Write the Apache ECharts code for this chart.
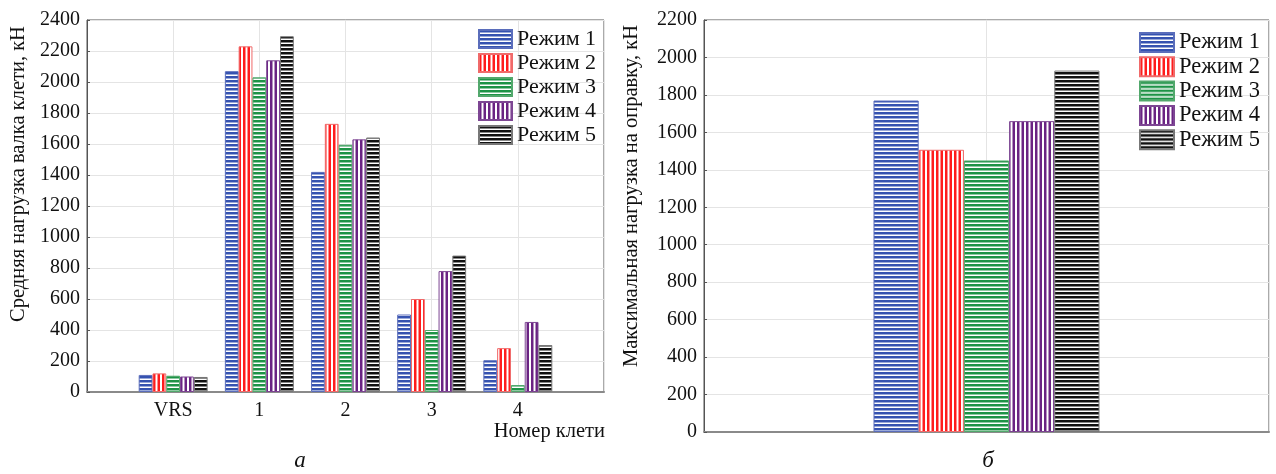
<!DOCTYPE html>
<html>
<head>
<meta charset="utf-8">
<script src="https://cdn.jsdelivr.net/npm/echarts@6/dist/echarts.min.js"></script>
<style>
html,body{margin:0;padding:0;background:#fff;}
#chart{width:1276px;height:474px;}
</style>
</head>
<body>
<div id="chart"></div>
<script>
// ---------- data ----------
const standCategories = ['VRS', '1', '2', '3', '4'];
const seriesNames = ['Режим 1', 'Режим 2', 'Режим 3', 'Режим 4', 'Режим 5'];
const avgLoadMode1 = [110, 2070, 1420, 500, 205];
const avgLoadMode2 = [120, 2230, 1730, 600, 283];
const avgLoadMode3 = [105, 2030, 1595, 400, 45];
const avgLoadMode4 = [100, 2140, 1630, 780, 452];
const avgLoadMode5 = [97, 2295, 1642, 880, 303];
const maxMandrelLoad = [1770, 1507, 1450, 1660, 1930];
const leftYTicks = {min: 0, max: 2400, interval: 200};
const rightYTicks = {min: 0, max: 2200, interval: 200};
const leftYTitle = 'Средняя нагрузка валка клети, кН';
const rightYTitle = 'Максимальная нагрузка на оправку, кН';
const xTitle = 'Номер клети';
const panelA = 'а';
const panelB = 'б';

// ---------- styles ----------
const FONT = '"Liberation Serif", "Times New Roman", serif';
const fills = [
  {color: '#3552b0', border: '#5a6dbb', dir: 'h'},
  {color: '#ff1c1c', border: '#f06a6a', dir: 'v'},
  {color: '#1d9346', border: '#52a86c', dir: 'h'},
  {color: '#6a2383', border: '#7d4693', dir: 'v'},
  {color: '#111111', border: '#777777', dir: 'h'}
];

function blend(hex, a) {
  const r = parseInt(hex.substr(1,2),16), g = parseInt(hex.substr(3,2),16), b = parseInt(hex.substr(5,2),16);
  const m = v => Math.round(v * a + 255 * (1 - a));
  return 'rgb(' + m(r) + ',' + m(g) + ',' + m(b) + ')';
}
function stripes(color, dir) {
  const c = document.createElement('canvas');
  if (dir === 'h') {
    c.width = 4; c.height = 4;
    const x = c.getContext('2d');
    x.fillStyle = '#fff'; x.fillRect(0,0,4,4);
    x.fillStyle = color; x.fillRect(0,0,4,2);
    x.fillStyle = blend(color, 0.5); x.fillRect(0,2,4,1);
  } else {
    c.width = 9; c.height = 4;
    const x = c.getContext('2d');
    x.fillStyle = '#fff'; x.fillRect(0,0,9,4);
    x.fillStyle = color; x.fillRect(0,0,2,4); x.fillRect(5,0,2,4);
    x.fillStyle = blend(color, 0.5); x.fillRect(2,0,1,4); x.fillRect(4,0,1,4);
  }
  return {image: c, repeat: 'repeat'};
}

const leftValues = [avgLoadMode1, avgLoadMode2, avgLoadMode3, avgLoadMode4, avgLoadMode5];
const leftCats = [''].concat(standCategories, ['']);
const rightCats = ['', '', ''];

const series = [];
seriesNames.forEach((name, i) => {
  const itemStyle = {color: stripes(fills[i].color, fills[i].dir), borderColor: fills[i].border, borderWidth: 1};
  series.push({
    name: name, type: 'bar', xAxisIndex: 0, yAxisIndex: 0,
    barGap: '0%', barCategoryGap: '20%',
    data: [null].concat(leftValues[i], [null]),
    itemStyle: itemStyle, emphasis: {disabled: true}, animation: false
  });
});
seriesNames.forEach((name, i) => {
  const itemStyle = {color: stripes(fills[i].color, fills[i].dir), borderColor: fills[i].border, borderWidth: 1};
  series.push({
    name: name, type: 'bar', xAxisIndex: 1, yAxisIndex: 1,
    barGap: '0%', barCategoryGap: '20%',
    data: [null, maxMandrelLoad[i], null],
    itemStyle: itemStyle, emphasis: {disabled: true}, animation: false
  });
});

const axisLabelY = {color: '#111', fontFamily: FONT, fontSize: 20, margin: 7, formatter: v => String(v)};
const splitLine = {show: true, lineStyle: {color: '#e4e4e4', width: 1}};
const legendBase = {
  orient: 'vertical', icon: 'rect', itemWidth: 33, itemHeight: 18, itemGap: 2, padding: 0,
  textStyle: {color: '#111', fontFamily: FONT, fontSize: 22}, selectedMode: false
};

const chart = echarts.init(document.getElementById('chart'), null, {renderer: 'canvas'});
chart.setOption({
  animation: false,
  backgroundColor: '#fff',
  grid: [
    {left: 87, top: 20, width: 517, height: 372, show: true, borderColor: '#555', borderWidth: 1},
    {left: 704, top: 20, width: 565, height: 412, show: true, borderColor: '#555', borderWidth: 1}
  ],
  xAxis: [
    {type: 'category', gridIndex: 0, data: leftCats, boundaryGap: false,
     axisLine: {lineStyle: {color: '#8a8a8a', width: 2}}, axisTick: {show: false},
     axisLabel: {interval: 0, color: '#111', fontFamily: FONT, fontSize: 20, margin: 9},
     splitLine: splitLine},
    {type: 'category', gridIndex: 1, data: rightCats, boundaryGap: false,
     axisLine: {lineStyle: {color: '#8a8a8a', width: 2}}, axisTick: {show: false},
     axisLabel: {show: false}, splitLine: splitLine}
  ],
  yAxis: [
    {type: 'value', gridIndex: 0, min: leftYTicks.min, max: leftYTicks.max, interval: leftYTicks.interval,
     axisLine: {show: true, lineStyle: {color: '#555'}}, axisTick: {show: true, inside: true, length: 3, lineStyle: {color: '#555'}},
     axisLabel: axisLabelY, splitLine: splitLine},
    {type: 'value', gridIndex: 1, min: rightYTicks.min, max: rightYTicks.max, interval: rightYTicks.interval,
     axisLine: {show: true, lineStyle: {color: '#555'}}, axisTick: {show: true, inside: true, length: 3, lineStyle: {color: '#555'}},
     axisLabel: axisLabelY, splitLine: splitLine}
  ],
  legend: [
    Object.assign({}, legendBase, {left: 478, top: 28, data: seriesNames}),
    Object.assign({}, legendBase, {left: 1139, top: 31, itemWidth: 34, itemHeight: 19, itemGap: 1.3, textStyle: {color: '#111', fontFamily: FONT, fontSize: 22.5}, data: seriesNames})
  ],
  graphic: [
    {type: 'text', x: 19, y: 174, rotation: Math.PI / 2,
     style: {text: leftYTitle, fill: '#111', font: '20.5px ' + FONT, align: 'center', verticalAlign: 'middle'}},
    {type: 'text', x: 632, y: 196, rotation: Math.PI / 2,
     style: {text: rightYTitle, fill: '#111', font: '20.5px ' + FONT, align: 'center', verticalAlign: 'middle'}},
    {type: 'text', x: 605, y: 432,
     style: {text: xTitle, fill: '#111', font: '20.5px ' + FONT, align: 'right', verticalAlign: 'middle'}},
    {type: 'text', x: 300, y: 461,
     style: {text: panelA, fill: '#111', font: 'italic 23px ' + FONT, align: 'center', verticalAlign: 'middle'}},
    {type: 'text', x: 988, y: 461,
     style: {text: panelB, fill: '#111', font: 'italic 23px ' + FONT, align: 'center', verticalAlign: 'middle'}}
  ],
  series: series
});
</script>
</body>
</html>
